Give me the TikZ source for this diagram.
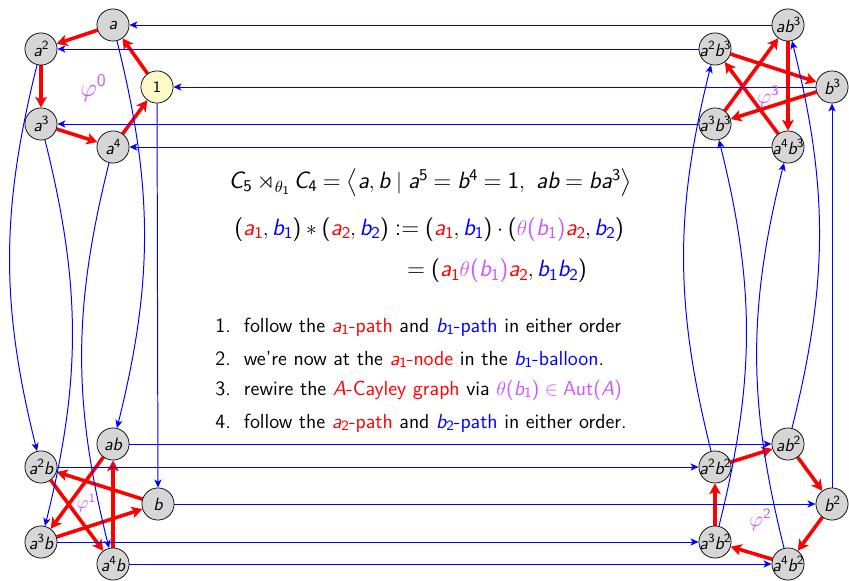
\documentclass[tikz,border=0pt]{standalone}
\usepackage{amsmath,amssymb}
\usetikzlibrary{arrows.meta}
\renewcommand{\familydefault}{\sfdefault}
\SetSymbolFont{operators}{normal}{TU}{lmss}{m}{n}
\DeclareSymbolFont{sflet}{TU}{lmss}{m}{sl}
\DeclareMathSymbol{a}{\mathalpha}{sflet}{`a}
\DeclareMathSymbol{b}{\mathalpha}{sflet}{`b}
\DeclareMathSymbol{A}{\mathalpha}{sflet}{`A}
\DeclareMathSymbol{C}{\mathalpha}{sflet}{`C}
\scriptspace=0pt
\definecolor{phicol}{RGB}{204,85,255}
\definecolor{nodegray}{RGB}{214,214,214}
\definecolor{nodeyellow}{RGB}{255,250,200}
\newcommand{\rd}[1]{\textcolor{red}{#1}}
\newcommand{\bl}[1]{\textcolor{blue}{#1}}
\newcommand{\vi}[1]{\textcolor{phicol}{#1}}
\newcommand{\eqsize}{\fontsize{13.2}{16}\selectfont}
\pgfdeclarelayer{bg}
\pgfsetlayers{bg,main}
\begin{document}
\begin{tikzpicture}[x=0.56pt,y=-0.56pt,font=\sffamily,
  elem/.style={circle,draw,fill=nodegray,minimum size=18pt,inner sep=0pt},
  ident/.style={elem,fill=nodeyellow},
  aarr/.style={red,line width=2pt,-{Stealth[length=6pt,width=6.5pt,inset=1.5pt]}},
  barr/.style={blue,line width=0.55pt,-{Stealth[length=4.5pt,width=4pt,inset=1.2pt]}},
  phil/.style={text=phicol},
  listitem/.style={anchor=base west,inner sep=0pt,font=\sffamily\fontsize{11.4}{13.5}\selectfont}]
\useasboundingbox (0,0) rectangle (849,581);
% balloon 0
\node[elem] (a) at (113,25) {\makebox[0pt]{$a$}};
\node[elem] (a2) at (41,49) {\makebox[0pt]{$a^2$}};
\node[elem] (a3) at (41,124) {\makebox[0pt]{$a^3$}};
\node[elem] (a4) at (113,147) {\makebox[0pt]{$a^4$}};
\node[ident] (e) at (157,87) {\makebox[0pt]{\small $1$}};
% balloon 1
\node[elem] (ab) at (113,444) {\makebox[0pt]{$ab$}};
\node[elem] (a2b) at (41,467) {\makebox[0pt]{$a^2b$}};
\node[elem] (a3b) at (41,542) {\makebox[0pt]{$a^3b$}};
\node[elem] (a4b) at (113,564) {\makebox[0pt]{$a^4b$}};
\node[elem] (b) at (158,504) {\makebox[0pt]{$b$}};
% balloon 2
\node[elem] (ab2) at (788,444) {\makebox[0pt]{$ab^2$}};
\node[elem] (a2b2) at (715,467) {\makebox[0pt]{$a^2b^2$}};
\node[elem] (a3b2) at (715,542) {\makebox[0pt]{$a^3b^2$}};
\node[elem] (a4b2) at (788,564) {\makebox[0pt]{$a^4b^2$}};
\node[elem] (b2) at (832,504) {\makebox[0pt]{$b^2$}};
% balloon 3
\node[elem] (ab3) at (788,25) {\makebox[0pt]{$ab^3$}};
\node[elem] (a2b3) at (715,49) {\makebox[0pt]{$a^2b^3$}};
\node[elem] (a3b3) at (715,124) {\makebox[0pt]{$a^3b^3$}};
\node[elem] (a4b3) at (788,147) {\makebox[0pt]{$a^4b^3$}};
\node[elem] (b3) at (832,87) {\makebox[0pt]{$b^3$}};
% phi labels
\node[phil] (p0) at (93,88) {\Large $\varphi^0$};
\node[phil] (p1) at (86,503) {$\varphi^1$};
\node[phil] (p2) at (760,520) {\large $\varphi^2$};
\node[phil] (p3) at (768,97) {\large $\varphi^3$};
% text
\node (eqA) at (430,183) {\eqsize $C_5 \rtimes_{\theta_1} C_4 = \bigl\langle a, b \mid a^5 = b^4 = 1,\ ab = ba^3 \bigr\rangle$};
\node (eqB) at (429,250) {\eqsize $\begin{aligned}
 (\rd{a_1},\bl{b_1}) * (\rd{a_2},\bl{b_2}) &\mathrel{:=} (\rd{a_1},\bl{b_1})\cdot(\vi{\theta(b_1)}\rd{a_2},\bl{b_2})\\[4pt]
 &\mathrel{\phantom{:}=} (\rd{a_1}\vi{\theta(b_1)}\rd{a_2}, \bl{b_1}\bl{b_2})
\end{aligned}$};
\node[listitem] (l1) at (215,332) {\makebox[16pt][l]{1.}follow the \rd{$a_1$-path} and \bl{$b_1$-path} in either order};
\node[listitem] (l2) at (215,365) {\makebox[16pt][l]{2.}we're now at the \rd{$a_1$-node} in the \bl{$b_1$-balloon}.};
\node[listitem] (l3) at (215,395) {\makebox[16pt][l]{3.}rewire the \rd{$A$-Cayley graph} via \vi{$\theta(b_1)\in\text{Aut}(A)$}};
\node[listitem] (l4) at (215,428) {\makebox[16pt][l]{4.}follow the \rd{$a_2$-path} and \bl{$b_2$-path} in either order.};
\begin{pgfonlayer}{bg}
% red a-edges
\draw[aarr] (e) -- (a);
\draw[aarr] (a) -- (a2);
\draw[aarr] (a2) -- (a3);
\draw[aarr] (a3) -- (a4);
\draw[aarr] (a4) -- (e);
\draw[aarr] (b) -- (a2b);
\draw[aarr] (a2b) -- (a4b);
\draw[aarr] (a4b) -- (ab);
\draw[aarr] (ab) -- (a3b);
\draw[aarr] (a3b) -- (b);
\draw[aarr] (b2) -- (a4b2);
\draw[aarr] (a4b2) -- (a3b2);
\draw[aarr] (a3b2) -- (a2b2);
\draw[aarr] (a2b2) -- (ab2);
\draw[aarr] (ab2) -- (b2);
\draw[aarr] (b3) -- (a3b3);
\draw[aarr] (a3b3) -- (ab3);
\draw[aarr] (ab3) -- (a4b3);
\draw[aarr] (a4b3) -- (a2b3);
\draw[aarr] (a2b3) -- (b3);
% blue b-edges
\draw[barr] (ab3) -- (a);
\draw[barr] (a2b3) -- (a2);
\draw[barr] (b3) -- (e);
\draw[barr] (a3b3) -- (a3);
\draw[barr] (a4b3) -- (a4);
\draw[barr] (e) -- (b);
\draw[barr] (a) to[bend left=14] (ab);
\draw[barr] (a2) to[bend right=14] (a2b);
\draw[barr] (a3) to[bend left=14] (a3b);
\draw[barr] (a4) to[bend right=14] (a4b);
\draw[barr] (ab) -- (ab2);
\draw[barr] (a2b) -- (a2b2);
\draw[barr] (b) -- (b2);
\draw[barr] (a3b) -- (a3b2);
\draw[barr] (a4b) -- (a4b2);
\draw[barr] (b2) -- (b3);
\draw[barr] (ab2) to[bend right=14] (ab3);
\draw[barr] (a2b2) to[bend left=14] (a2b3);
\draw[barr] (a3b2) to[bend right=14] (a3b3);
\draw[barr] (a4b2) to[bend left=14] (a4b3);
\end{pgfonlayer}
\end{tikzpicture}
\end{document}
